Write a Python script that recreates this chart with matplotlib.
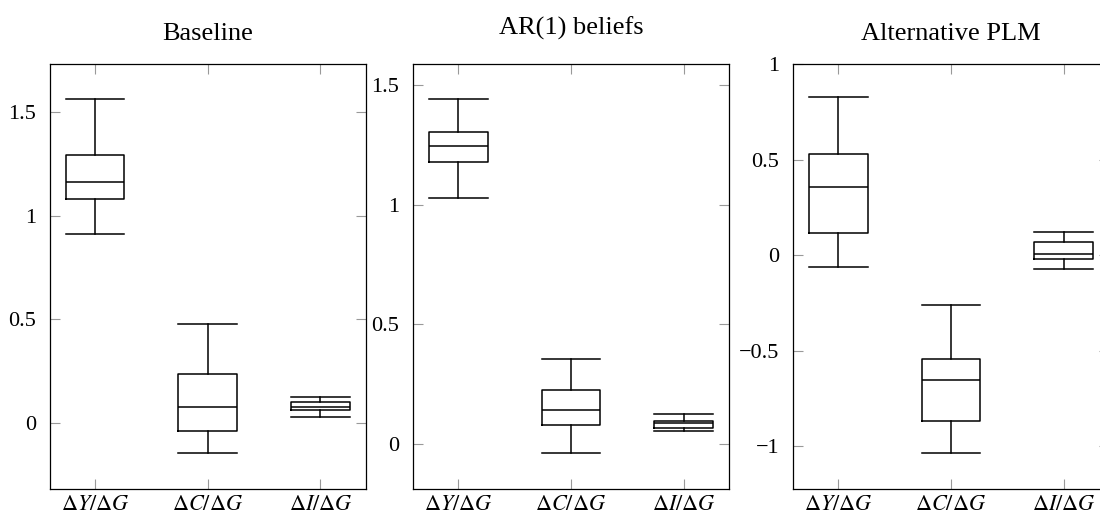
import matplotlib
matplotlib.use('Agg')
import matplotlib.pyplot as plt

plt.rcParams['font.family'] = ['Liberation Serif', 'DejaVu Serif']
plt.rcParams['mathtext.fontset'] = 'stix'
plt.rcParams['font.size'] = 16

labels = [r'$\Delta Y/\Delta G$', r'$\Delta C/\Delta G$', r'$\Delta I/\Delta G$']
titles = ['Baseline', 'AR(1) beliefs', 'Alternative PLM']

# whisker low, Q1, median, Q3, whisker high (per variable)
base_lo = [0.914, -0.145, 0.031]
base_q1 = [1.081, -0.037, 0.064]
base_med = [1.164, 0.077, 0.080]
base_q3 = [1.293, 0.238, 0.100]
base_hi = [1.561, 0.479, 0.128]

ar1_lo = [1.030, -0.039, 0.053]
ar1_q1 = [1.178, 0.078, 0.066]
ar1_med = [1.246, 0.142, 0.086]
ar1_q3 = [1.302, 0.226, 0.098]
ar1_hi = [1.441, 0.354, 0.125]

plm_lo = [-0.061, -1.037, -0.075]
plm_q1 = [0.114, -0.866, -0.018]
plm_med = [0.358, -0.652, 0.004]
plm_q3 = [0.530, -0.542, 0.067]
plm_hi = [0.826, -0.260, 0.123]

panels = [
    (base_lo, base_q1, base_med, base_q3, base_hi),
    (ar1_lo, ar1_q1, ar1_med, ar1_q3, ar1_hi),
    (plm_lo, plm_q1, plm_med, plm_q3, plm_hi),
]
ylims = [(-0.317, 1.731), (-0.188, 1.588), (-1.224, 1.0)]
yticks = [[0, 0.5, 1, 1.5], [0, 0.5, 1, 1.5], [-1, -0.5, 0, 0.5, 1]]
lefts = [50, 413.3, 793.3]

W, H = 1100, 518
fig = plt.figure(figsize=(W / 100, H / 100), dpi=100)

for i in range(3):
    ax = fig.add_axes([lefts[i] / W, 29 / H, 315.5 / W, 425 / H])
    lo, q1, med, q3, hi = panels[i]
    stats = []
    for j in range(3):
        stats.append({'whislo': lo[j], 'q1': q1[j], 'med': med[j],
                      'q3': q3[j], 'whishi': hi[j], 'fliers': []})
    lp = {'color': 'black', 'linewidth': 1.1}
    ax.bxp(stats, positions=[1, 2, 3], widths=0.52, capwidths=0.52,
           showfliers=False, boxprops=lp, whiskerprops=lp, capprops=lp,
           medianprops=lp)
    ax.set_xlim(0.6, 3.4)
    ax.set_ylim(*ylims[i])
    ax.set_yticks(yticks[i])
    ax.set_yticklabels([('%g' % v).replace('-', '\u2212') for v in yticks[i]])
    ax.set_xticks([1, 2, 3])
    ax.set_xticklabels(labels, fontsize=16)
    ax.tick_params(direction='in', length=7.5, width=0.8, color='0.6',
                   top=True, right=True)
    ax.tick_params(axis='y', pad=10)
    ax.tick_params(axis='x', pad=5)
    for s in ax.spines.values():
        s.set_linewidth(0.9)
    ax.set_title(titles[i], fontsize=19, pad=17 if i != 1 else 21)

fig.savefig('out.png', dpi=100)
